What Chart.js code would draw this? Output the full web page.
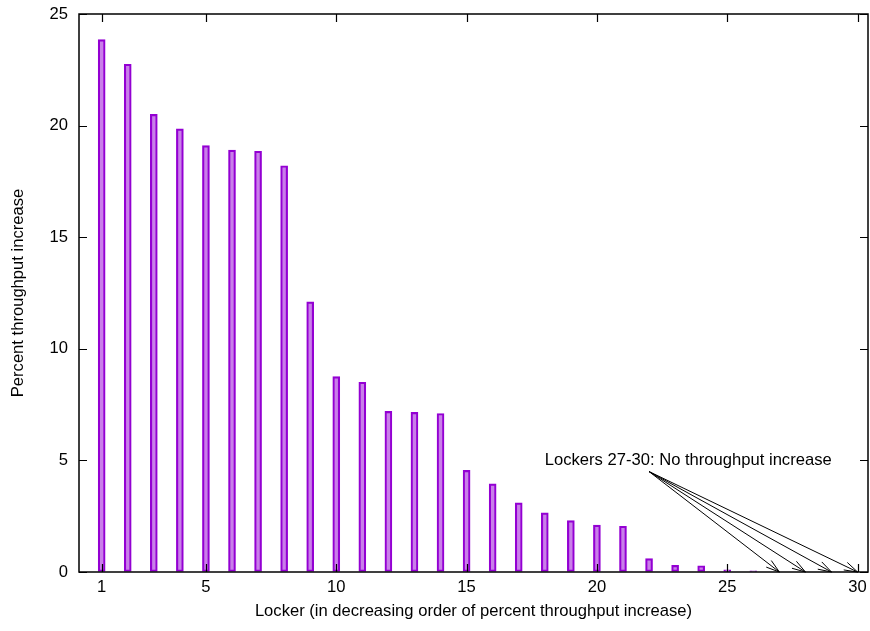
<!DOCTYPE html>
<html>
<head>
<meta charset="utf-8">
<script src="https://cdn.jsdelivr.net/npm/chart.js@4/dist/chart.umd.min.js"></script>
<style>
  html, body { margin: 0; padding: 0; background: #fff; }
  #wrap { width: 870px; height: 631px; }
</style>
</head>
<body>
<div id="wrap"><canvas id="myChart" width="870" height="631"></canvas></div>
<script>
// Data

const lockers = [1, 2, 3, 4, 5, 6, 7, 8, 9, 10, 11, 12, 13, 14, 15,
  16, 17, 18, 19, 20, 21, 22, 23, 24, 25, 26, 27, 28, 29, 30];
const increase = [23.85, 22.75, 20.5, 19.85, 19.1, 18.9, 18.85, 18.2, 12.1, 8.75,
  8.5, 7.2, 7.15, 7.1, 4.55, 3.95, 3.1, 2.65, 2.3, 2.1,
  2.05, 0.6, 0.3, 0.28, 0.1, 0.05, 0, 0, 0, 0];

const xTicks = [1, 5, 10, 15, 20, 25, 30];
const yTicks = [0, 5, 10, 15, 20, 25];

const noteText = "Lockers 27-30: No throughput increase";
const notePos = [18, 5];
const arrowFrom = [22, 4.5];
const arrowTo = [27, 28, 29, 30];

const FONT = "'Liberation Sans', Arial, Helvetica, sans-serif";
const FONT_SIZE = 16.6;

// Frame, inward ticks and the note with arrows

const framePlugin = {
  id: "frame",
  afterDraw(chart) {
    const ctx = chart.ctx;
    const a = chart.chartArea;
    const xs = chart.scales.x;
    const ys = chart.scales.y;
    const tl = 8;
    ctx.save();
    ctx.strokeStyle = "#000";
    ctx.lineWidth = 1.2;
    ctx.beginPath();
    xTicks.forEach(v => {
      const px = Math.round(xs.getPixelForValue(v)) + 0.5;
      ctx.moveTo(px, a.bottom); ctx.lineTo(px, a.bottom - tl);
      ctx.moveTo(px, a.top); ctx.lineTo(px, a.top + tl);
    });
    yTicks.forEach(v => {
      const py = Math.round(ys.getPixelForValue(v)) + 0.5;
      ctx.moveTo(a.left, py); ctx.lineTo(a.left + tl, py);
      ctx.moveTo(a.right, py); ctx.lineTo(a.right - tl, py);
    });
    ctx.stroke();
    ctx.lineWidth = 1.5;
    ctx.strokeRect(a.left, a.top, a.right - a.left, a.bottom - a.top);

    // note
    ctx.fillStyle = "#000";
    ctx.font = FONT_SIZE + "px " + FONT;
    ctx.textAlign = "left";
    ctx.textBaseline = "middle";
    ctx.fillText(noteText, xs.getPixelForValue(notePos[0]), ys.getPixelForValue(notePos[1]));

    const sx = xs.getPixelForValue(arrowFrom[0]);
    const sy = ys.getPixelForValue(arrowFrom[1]);
    ctx.lineWidth = 1;
    arrowTo.forEach(t => {
      const ex = xs.getPixelForValue(t);
      const ey = ys.getPixelForValue(0);
      const ang = Math.atan2(ey - sy, ex - sx);
      const hl = 14, ha = 0.3;
      ctx.beginPath();
      ctx.moveTo(sx, sy);
      ctx.lineTo(ex, ey);
      ctx.moveTo(ex - hl * Math.cos(ang - ha), ey - hl * Math.sin(ang - ha));
      ctx.lineTo(ex, ey);
      ctx.lineTo(ex - hl * Math.cos(ang + ha), ey - hl * Math.sin(ang + ha));
      ctx.stroke();
    });
    ctx.restore();
  }
};

// Chart

const ctx = document.getElementById("myChart").getContext("2d");
const chart = new Chart(ctx, {
  type: "bar",
  data: {
    datasets: [{
      data: lockers.map((x, i) => ({ x: x, y: increase[i] })),
      backgroundColor: "rgba(148, 0, 211, 0.5)",
      borderColor: "#9400d3",
      borderWidth: 1.5,
      borderSkipped: false,
      barThickness: 7,
    }],
  },
  options: {
    responsive: false,
    animation: false,
    layout: { padding: { top: 14, right: 2, left: 0, bottom: 0 } },
    plugins: {
      legend: { display: false },
      tooltip: { enabled: false },
    },
    scales: {
      x: {
        type: "linear",
        offset: false,
        min: 0.13,
        max: 30.4,
        afterBuildTicks: s => { s.ticks = xTicks.map(v => ({ value: v })); },
        afterFit: s => { s.height = 59; s.paddingLeft = 0; s.paddingRight = 0; },
        grid: { display: true, drawOnChartArea: false, drawTicks: false, offset: false },
        border: { display: false },
        ticks: {
          padding: 5,
          color: "#000",
          maxRotation: 0,
          font: { family: FONT, size: FONT_SIZE },
        },
        title: {
          display: true,
          text: "Locker (in decreasing order of percent throughput increase)",
          color: "#000",
          font: { family: FONT, size: FONT_SIZE },
          padding: { top: 0, bottom: 10 },
        },
      },
      y: {
        min: 0,
        max: 25,
        afterBuildTicks: s => { s.ticks = yTicks.map(v => ({ value: v })); },
        afterFit: s => { s.width = 79; s.paddingTop = 0; s.paddingBottom = 0; },
        grid: { display: true, drawOnChartArea: false, drawTicks: false },
        border: { display: false },
        ticks: {
          padding: 11,
          color: "#000",
          font: { family: FONT, size: FONT_SIZE },
        },
        title: {
          display: true,
          text: "Percent throughput increase",
          color: "#000",
          font: { family: FONT, size: FONT_SIZE },
          padding: { top: 8, bottom: 0 },
        },
      },
    },
  },
  plugins: [framePlugin],
});
</script>
</body>
</html>
